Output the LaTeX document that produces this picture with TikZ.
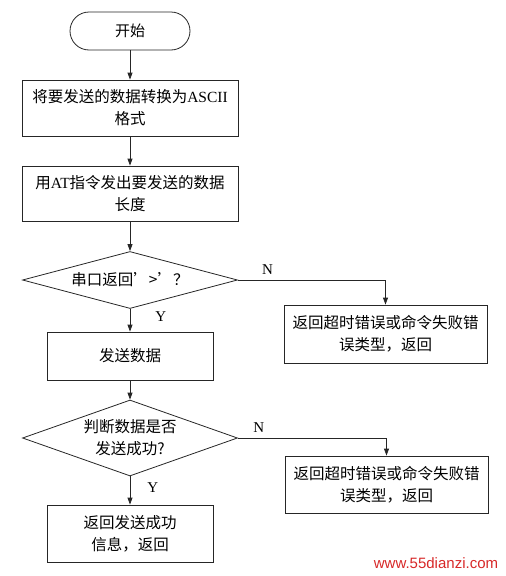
\documentclass[tikz,border=0pt]{standalone}
\usepackage{fontspec}
\setmainfont{Liberation Serif}
\newfontfamily\cjk{Noto Sans CJK SC}
\usetikzlibrary{shapes.geometric,arrows.meta}

\begin{document}
\begin{tikzpicture}[x=1pt,y=-1pt, line width=0.8pt,
  arr/.style={draw=black!85, -{Triangle[length=7pt,width=5pt]}},
  term/.style={draw=black!85, rounded corners=19pt, minimum width=120pt, minimum height=38pt, font=\cjk\fontsize{15}{22}\selectfont},
  proc/.style={draw=black!85, align=center, inner sep=2pt, font=\cjk\fontsize{15.5}{22}\selectfont},
  decision/.style={draw=black!85, diamond, inner sep=0pt, minimum width=215pt},
  dtext/.style={align=center, inner sep=0pt, font=\cjk\fontsize{15.5}{22}\selectfont},
  yn/.style={font=\fontsize{15}{18}\selectfont, inner sep=1pt},
  wm/.style={font=\fontspec{Liberation Sans}\fontsize{15}{18}\selectfont, text={rgb,255:red,215;green,40;blue,40}}
]
\useasboundingbox (0,0) rectangle (506,576);

% --- colonna principale ---
\node[term] (start) at (130,31) {开始};
\node[proc, minimum width=216pt, minimum height=56pt] (conv) at (130,108)
  {将要发送的数据转换为{\rmfamily ASCII}\\格式};
\node[proc, minimum width=216pt, minimum height=55pt] (len) at (130,193.5)
  {用{\rmfamily AT}指令发出要发送的数据\\长度};
\node[decision, minimum height=57pt,
  label={[dtext]center:串口返回’>’？}] (ask1) at (130,280) {};
\node[proc, minimum width=166pt, minimum height=48pt] (send) at (130,356) {发送数据};
\node[decision, minimum height=76pt,
  label={[dtext]center:判断数据是否\\发送成功?}] (ask2) at (130,438) {};
\node[proc, minimum width=166pt, minimum height=57pt] (ok) at (130,533.5)
  {返回发送成功\\信息，返回};

% --- rami di errore (destra) ---
\node[proc, minimum width=203pt, minimum height=58pt] (err1) at (385.5,334)
  {返回超时错误或命令失败错\\误类型，返回};
\node[proc, minimum width=203pt, minimum height=57pt] (err2) at (386.5,484.5)
  {返回超时错误或命令失败错\\误类型，返回};

% frecce
\draw[arr] (start) -- (conv);
\draw[arr] (conv) -- (len);
\draw[arr] (len) -- (ask1);
\draw[arr] (ask1) -- node[yn, pos=0.35, right=24pt] {Y} (send);
\draw[arr] (ask1.east) -| node[yn, pos=0.1, above=4pt] {N} (err1.north);
\draw[arr] (send) -- (ask2);
\draw[arr] (ask2) -- node[yn, pos=0.4, right=16pt] {Y} (ok);
\draw[arr] (ask2.east) -| node[yn, pos=0.07, above=4pt] {N} (err2.north);

\node[wm] (mark) at (436,563) {www.55dianzi.com};

\end{tikzpicture}
\end{document}
